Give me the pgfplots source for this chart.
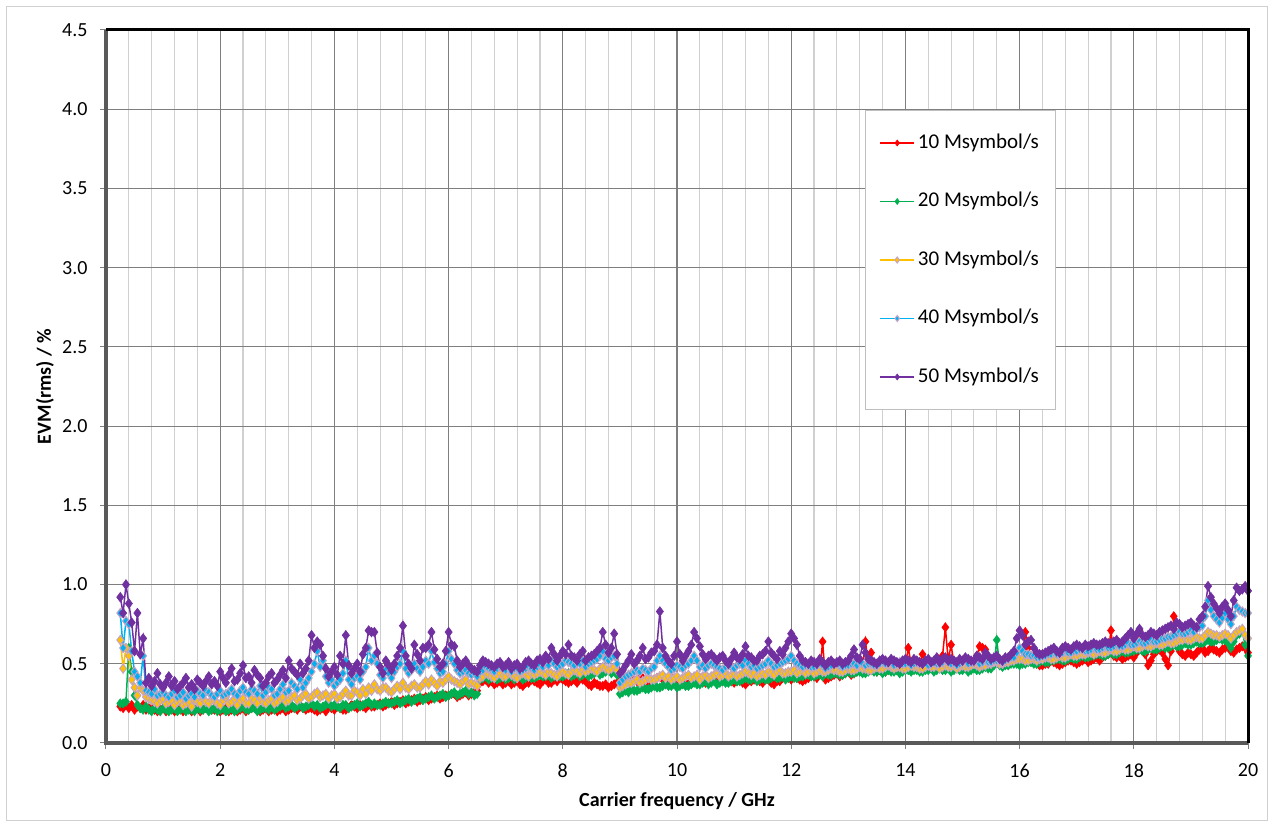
\documentclass[border=0pt]{standalone}
\usepackage{pgfplots}
\pgfplotsset{compat=1.18}
\usepackage{pgfplotstable}
\usepackage{fontspec}
\setmainfont{Carlito}
\definecolor{c10}{HTML}{FF0000}
\definecolor{c20}{HTML}{00B050}
\definecolor{c30}{HTML}{FFC000}
\definecolor{c40}{HTML}{00B0F0}
\definecolor{c50}{HTML}{7030A0}
\definecolor{mk}{HTML}{C4A4C4}
\definecolor{majg}{HTML}{7F7F7F}
\definecolor{ming}{HTML}{D0D0D0}
\definecolor{spine}{HTML}{595959}
\definecolor{framec}{HTML}{D0D0D0}
\definecolor{legc}{HTML}{BFBFBF}

\pgfplotstableread{
x a b c d e
0.25 .23 .25 .65 .82 .92
0.30 .22 .25 .47 .60 .82
0.35 .24 .26 .60 .77 1.00
0.40 .22 .60 .55 .75 .88
0.45 .24 .45 .40 .58 .76
0.50 .21 .30 .35 .45 .58
0.55 .23 .24 .30 .42 .82
0.60 .22 .22 .35 .38 .56
0.65 .24 .21 .33 .55 .66
0.70 .21 .23 .29 .33 .38
0.75 .22 .21 .28 .32 .41
0.80 .22 .20 .27 .31 .36
0.85 .21 .22 .26 .34 .39
0.90 .20 .21 .25 .30 .44
0.95 .21 .20 .27 .31 .37
1.0 .22 .22 .28 .32 .35
1.05 .20 .21 .25 .30 .38
1.1 .21 .20 .26 .29 .42
1.15 .22 .21 .27 .31 .36
1.2 .20 .22 .24 .33 .39
1.25 .21 .20 .26 .29 .34
1.3 .22 .21 .27 .30 .36
1.35 .20 .22 .24 .32 .38
1.4 .21 .20 .25 .28 .41
1.45 .22 .21 .26 .30 .35
1.5 .20 .21 .23 .31 .37
1.55 .21 .20 .27 .29 .34
1.6 .22 .22 .26 .33 .40
1.65 .20 .21 .25 .31 .38
1.7 .21 .21 .28 .30 .36
1.75 .22 .22 .26 .33 .39
1.8 .23 .20 .25 .32 .42
1.85 .21 .21 .27 .30 .37
1.9 .21 .22 .27 .29 .39
1.95 .22 .20 .25 .31 .36
2.0 .20 .21 .24 .33 .45
2.05 .21 .22 .27 .30 .41
2.1 .22 .20 .29 .31 .38
2.15 .20 .21 .25 .32 .43
2.2 .21 .22 .26 .34 .47
2.25 .22 .20 .28 .31 .39
2.3 .20 .21 .24 .30 .40
2.35 .21 .22 .27 .33 .44
2.4 .22 .23 .28 .35 .49
2.45 .20 .21 .25 .32 .41
2.5 .21 .21 .25 .31 .42
2.55 .22 .22 .28 .34 .38
2.6 .23 .22 .27 .33 .46
2.65 .21 .20 .25 .31 .43
2.7 .20 .21 .29 .36 .41
2.75 .21 .22 .26 .30 .36
2.8 .22 .22 .25 .32 .38
2.85 .20 .21 .27 .35 .42
2.9 .21 .23 .28 .34 .44
2.95 .22 .21 .25 .30 .38
3.0 .20 .22 .26 .31 .40
3.05 .21 .23 .28 .34 .43
3.1 .22 .24 .29 .37 .46
3.15 .20 .22 .26 .32 .41
3.2 .21 .23 .27 .33 .52
3.25 .22 .24 .29 .38 .47
3.3 .22 .22 .30 .36 .45
3.35 .21 .23 .27 .34 .43
3.4 .23 .24 .28 .40 .50
3.45 .22 .22 .30 .35 .44
3.5 .21 .23 .31 .38 .47
3.55 .22 .24 .28 .41 .52
3.6 .22 .25 .29 .45 .68
3.65 .21 .23 .31 .50 .60
3.7 .20 .24 .32 .58 .64
3.75 .21 .22 .29 .48 .62
3.8 .22 .23 .30 .52 .55
3.85 .20 .24 .31 .42 .47
3.9 .23 .25 .28 .38 .42
3.95 .22 .23 .30 .40 .45
4.0 .21 .24 .31 .36 .48
4.05 .23 .23 .28 .38 .43
4.1 .22 .22 .29 .40 .55
4.15 .21 .24 .31 .44 .50
4.2 .21 .24 .33 .52 .68
4.25 .22 .22 .30 .40 .49
4.3 .24 .23 .30 .37 .44
4.35 .23 .24 .33 .41 .47
4.4 .22 .25 .32 .42 .50
4.45 .24 .23 .30 .40 .45
4.5 .23 .24 .34 .45 .56
4.55 .22 .25 .31 .48 .60
4.6 .24 .26 .35 .60 .71
4.65 .23 .24 .33 .52 .70
4.7 .23 .25 .37 .55 .70
4.75 .24 .24 .34 .50 .57
4.8 .25 .24 .33 .43 .48
4.85 .23 .25 .35 .41 .44
4.9 .24 .26 .35 .46 .52
4.95 .25 .25 .33 .44 .49
5.0 .26 .25 .32 .41 .46
5.05 .24 .26 .34 .45 .50
5.1 .25 .27 .36 .48 .55
5.15 .26 .25 .34 .50 .60
5.2 .27 .26 .38 .58 .74
5.25 .25 .27 .35 .47 .55
5.3 .26 .28 .34 .44 .50
5.35 .27 .26 .36 .46 .47
5.4 .28 .27 .37 .50 .62
5.45 .26 .28 .35 .47 .56
5.5 .27 .29 .35 .45 .52
5.55 .28 .27 .37 .48 .60
5.6 .29 .28 .39 .52 .60
5.65 .27 .29 .37 .50 .62
5.7 .28 .30 .40 .58 .70
5.75 .29 .28 .38 .51 .59
5.8 .30 .29 .36 .47 .53
5.85 .28 .30 .39 .44 .48
5.9 .29 .31 .38 .45 .50
5.95 .30 .29 .40 .50 .58
6.0 .30 .30 .42 .58 .70
6.05 .31 .31 .40 .53 .62
6.1 .31 .32 .39 .50 .61
6.15 .29 .30 .38 .46 .52
6.2 .30 .31 .37 .44 .48
6.25 .31 .32 .39 .45 .50
6.3 .32 .33 .40 .46 .52
6.35 .30 .31 .37 .44 .49
6.4 .31 .32 .38 .43 .47
6.45 .32 .30 .37 .44 .46
6.5 .33 .31 .36 .42 .45
6.55 .38 .40 .41 .45 .49
6.6 .39 .41 .42 .46 .52
6.65 .40 .42 .44 .48 .51
6.7 .38 .40 .43 .47 .50
6.75 .39 .41 .42 .46 .49
6.8 .37 .42 .41 .45 .48
6.85 .38 .40 .43 .47 .50
6.9 .39 .41 .44 .48 .51
6.95 .37 .42 .42 .47 .48
7.0 .38 .40 .42 .46 .49
7.05 .39 .41 .44 .48 .51
7.1 .37 .42 .43 .45 .47
7.15 .38 .40 .42 .47 .49
7.2 .39 .41 .41 .47 .50
7.25 .37 .42 .43 .45 .47
7.3 .36 .40 .44 .46 .48
7.35 .38 .41 .43 .47 .51
7.4 .38 .42 .42 .48 .52
7.45 .40 .41 .44 .47 .50
7.5 .39 .41 .43 .46 .49
7.55 .38 .42 .44 .48 .52
7.6 .37 .43 .45 .49 .53
7.65 .39 .42 .44 .48 .51
7.7 .40 .42 .43 .50 .55
7.75 .38 .43 .45 .49 .53
7.8 .38 .41 .44 .52 .60
7.85 .40 .42 .43 .50 .56
7.9 .39 .43 .42 .48 .52
7.95 .41 .42 .44 .49 .55
8.0 .40 .42 .45 .50 .58
8.05 .39 .43 .44 .52 .56
8.1 .38 .44 .43 .51 .62
8.15 .39 .42 .45 .50 .55
8.2 .40 .43 .46 .49 .54
8.25 .38 .44 .45 .51 .52
8.3 .41 .42 .44 .50 .56
8.35 .40 .43 .46 .52 .58
8.4 .39 .44 .45 .48 .52
8.45 .37 .42 .46 .50 .54
8.5 .36 .43 .47 .51 .55
8.55 .38 .44 .46 .52 .56
8.6 .37 .45 .45 .53 .58
8.65 .36 .43 .47 .55 .60
8.7 .36 .44 .48 .58 .70
8.75 .37 .45 .47 .53 .62
8.8 .35 .46 .46 .52 .57
8.85 .36 .44 .47 .54 .60
8.9 .37 .45 .48 .55 .69
8.95 .38 .43 .46 .50 .56
9.0 .42 .31 .35 .38 .44
9.05 .41 .32 .36 .40 .46
9.1 .40 .33 .37 .42 .49
9.15 .41 .32 .38 .43 .52
9.2 .42 .34 .38 .44 .56
9.25 .40 .33 .39 .45 .50
9.3 .39 .33 .40 .46 .52
9.35 .41 .34 .38 .45 .55
9.4 .41 .35 .39 .47 .60
9.45 .39 .34 .40 .46 .53
9.5 .38 .34 .41 .45 .54
9.55 .40 .35 .40 .47 .57
9.6 .40 .36 .40 .48 .58
9.65 .41 .35 .41 .52 .62
9.7 .42 .35 .42 .55 .83
9.75 .40 .36 .43 .52 .60
9.8 .39 .37 .41 .50 .55
9.85 .40 .36 .42 .48 .52
9.9 .41 .36 .40 .46 .50
9.95 .39 .37 .41 .47 .55
10.0 .38 .35 .42 .49 .64
10.05 .39 .36 .40 .48 .56
10.1 .40 .37 .41 .47 .52
10.15 .38 .36 .42 .49 .55
10.2 .37 .36 .43 .50 .58
10.25 .38 .37 .41 .52 .62
10.3 .39 .38 .42 .55 .70
10.35 .40 .37 .43 .52 .66
10.4 .41 .37 .40 .48 .61
10.45 .39 .38 .42 .49 .56
10.5 .38 .39 .43 .47 .53
10.55 .40 .37 .41 .49 .55
10.6 .40 .38 .42 .50 .56
10.65 .41 .39 .43 .49 .54
10.7 .42 .37 .44 .48 .52
10.75 .40 .38 .42 .47 .54
10.8 .39 .39 .43 .46 .55
10.85 .40 .38 .44 .48 .52
10.9 .41 .38 .42 .49 .50
10.95 .39 .39 .43 .48 .53
11.0 .38 .40 .44 .47 .57
11.05 .39 .39 .42 .49 .54
11.1 .40 .39 .43 .50 .53
11.15 .38 .40 .44 .49 .56
11.2 .37 .41 .45 .52 .61
11.25 .39 .40 .44 .50 .55
11.3 .39 .40 .43 .48 .54
11.35 .40 .41 .44 .49 .52
11.4 .41 .39 .42 .47 .52
11.45 .39 .40 .43 .48 .55
11.5 .38 .41 .44 .49 .56
11.55 .40 .40 .43 .50 .58
11.6 .40 .40 .45 .52 .64
11.65 .38 .41 .44 .50 .57
11.7 .37 .42 .43 .48 .55
11.75 .39 .41 .45 .49 .53
11.8 .39 .41 .46 .50 .58
11.85 .41 .42 .44 .51 .56
11.9 .42 .40 .44 .52 .60
11.95 .41 .41 .45 .53 .64
12.0 .40 .42 .45 .55 .69
12.05 .42 .41 .46 .52 .66
12.1 .41 .41 .44 .50 .62
12.15 .40 .42 .45 .49 .55
12.2 .39 .42 .46 .48 .52
12.25 .40 .43 .44 .49 .51
12.3 .41 .43 .45 .49 .50
12.35 .43 .42 .46 .48 .52
12.4 .42 .42 .44 .48 .51
12.45 .41 .43 .45 .49 .50
12.5 .45 .43 .46 .50 .53
12.55 .64 .42 .45 .49 .51
12.6 .40 .44 .45 .47 .49
12.65 .41 .43 .46 .48 .51
12.7 .42 .43 .47 .49 .52
12.75 .43 .44 .46 .50 .50
12.8 .44 .44 .46 .50 .51
12.85 .42 .43 .45 .49 .52
12.9 .43 .43 .45 .48 .50
12.95 .44 .44 .46 .49 .51
13.0 .45 .45 .47 .49 .52
13.05 .43 .44 .46 .50 .55
13.1 .44 .44 .46 .50 .59
13.15 .45 .45 .47 .49 .54
13.2 .46 .45 .48 .51 .53
13.25 .47 .44 .47 .50 .62
13.3 .64 .44 .47 .49 .57
13.35 .50 .45 .46 .50 .53
13.4 .57 .46 .46 .50 .52
13.45 .46 .45 .47 .49 .51
13.5 .45 .45 .48 .49 .50
13.55 .46 .46 .47 .50 .52
13.6 .47 .44 .47 .51 .53
13.65 .45 .45 .48 .50 .52
13.7 .46 .46 .49 .50 .51
13.75 .47 .45 .48 .51 .53
13.8 .48 .45 .47 .49 .52
13.85 .46 .46 .48 .50 .51
13.9 .47 .44 .48 .51 .50
13.95 .48 .45 .47 .50 .52
14.0 .49 .46 .47 .50 .53
14.05 .60 .46 .48 .51 .52
14.1 .50 .45 .49 .49 .51
14.15 .47 .46 .48 .50 .53
14.2 .48 .46 .48 .51 .52
14.25 .49 .45 .47 .50 .51
14.3 .56 .45 .47 .50 .50
14.35 .47 .46 .48 .51 .52
14.4 .47 .46 .49 .49 .53
14.45 .48 .47 .48 .50 .51
14.5 .49 .45 .48 .51 .52
14.55 .47 .46 .49 .50 .54
14.6 .48 .47 .47 .50 .51
14.65 .55 .46 .48 .51 .53
14.7 .73 .46 .49 .52 .54
14.75 .52 .47 .48 .51 .52
14.8 .62 .45 .48 .50 .53
14.85 .50 .46 .49 .51 .52
14.9 .49 .47 .47 .49 .51
14.95 .50 .46 .48 .50 .53
15.0 .48 .46 .49 .51 .52
15.05 .49 .47 .48 .52 .54
15.1 .50 .45 .48 .50 .53
15.15 .51 .46 .49 .51 .52
15.2 .49 .47 .50 .51 .52
15.25 .55 .46 .49 .52 .55
15.3 .61 .46 .48 .50 .54
15.35 .60 .47 .49 .51 .53
15.4 .59 .48 .49 .52 .57
15.45 .52 .47 .50 .51 .55
15.5 .50 .47 .50 .51 .53
15.55 .51 .49 .51 .52 .54
15.6 .51 .65 .51 .52 .55
15.65 .50 .49 .50 .52 .53
15.7 .52 .48 .50 .51 .52
15.75 .51 .49 .51 .52 .54
15.8 .50 .49 .51 .53 .54
15.85 .52 .50 .52 .54 .56
15.9 .52 .50 .52 .54 .58
15.95 .51 .50 .53 .57 .66
16.0 .51 .49 .53 .60 .71
16.05 .53 .50 .53 .58 .68
16.1 .70 .50 .52 .56 .62
16.15 .60 .51 .52 .56 .64
16.2 .55 .51 .53 .55 .65
16.25 .51 .50 .53 .55 .60
16.3 .50 .50 .52 .54 .57
16.35 .49 .51 .53 .54 .56
16.4 .49 .52 .53 .55 .56
16.45 .50 .51 .54 .55 .57
16.5 .50 .51 .54 .56 .58
16.55 .52 .52 .53 .56 .59
16.6 .51 .52 .53 .57 .60
16.65 .50 .53 .54 .56 .58
16.7 .49 .53 .55 .56 .57
16.75 .50 .52 .54 .57 .60
16.8 .51 .52 .54 .58 .61
16.85 .52 .53 .55 .57 .60
16.9 .52 .54 .56 .57 .59
16.95 .51 .53 .55 .58 .61
17.0 .50 .53 .55 .58 .62
17.05 .51 .54 .56 .59 .61
17.1 .52 .55 .56 .59 .60
17.15 .53 .54 .56 .58 .62
17.2 .51 .54 .57 .58 .61
17.25 .52 .55 .57 .59 .62
17.3 .53 .55 .56 .60 .63
17.35 .54 .56 .57 .59 .62
17.4 .52 .56 .58 .59 .62
17.45 .54 .55 .57 .60 .63
17.5 .55 .55 .57 .61 .64
17.55 .56 .56 .58 .60 .63
17.6 .71 .57 .59 .60 .63
17.65 .55 .56 .58 .61 .64
17.7 .54 .56 .58 .62 .65
17.75 .55 .57 .59 .61 .63
17.8 .53 .58 .60 .61 .64
17.85 .54 .57 .59 .62 .66
17.9 .55 .57 .59 .63 .68
17.95 .56 .58 .60 .62 .70
18.0 .54 .58 .61 .62 .66
18.05 .57 .59 .60 .63 .69
18.1 .71 .59 .60 .64 .72
18.15 .60 .58 .61 .63 .68
18.2 .56 .58 .62 .63 .67
18.25 .49 .59 .61 .64 .68
18.3 .52 .60 .61 .65 .70
18.35 .56 .59 .62 .64 .69
18.4 .58 .59 .63 .64 .68
18.45 .59 .60 .62 .65 .70
18.5 .57 .61 .62 .66 .71
18.55 .53 .60 .63 .66 .72
18.6 .49 .60 .64 .67 .73
18.65 .58 .61 .63 .67 .74
18.7 .80 .62 .63 .68 .72
18.75 .62 .61 .64 .69 .76
18.8 .58 .61 .65 .70 .75
18.85 .56 .62 .65 .69 .73
18.9 .55 .63 .66 .69 .74
18.95 .57 .62 .65 .70 .75
19.0 .56 .62 .65 .71 .76
19.05 .55 .63 .66 .70 .74
19.1 .57 .64 .67 .72 .73
19.15 .59 .63 .66 .73 .78
19.2 .60 .63 .66 .74 .80
19.25 .57 .64 .68 .80 .86
19.3 .58 .65 .70 .90 .99
19.35 .60 .64 .69 .84 .92
19.4 .59 .64 .68 .80 .88
19.45 .58 .65 .68 .78 .85
19.5 .57 .66 .67 .76 .82
19.55 .59 .65 .68 .79 .86
19.6 .60 .65 .69 .82 .88
19.65 .61 .63 .68 .78 .84
19.7 .58 .60 .66 .75 .80
19.75 .57 .64 .68 .80 .90
19.8 .59 .68 .70 .86 .98
19.85 .60 .69 .71 .84 .96
19.9 .61 .70 .72 .83 .97
19.95 .60 .62 .68 .82 .99
20.0 .57 .55 .66 .82 .96
}\data

\begin{document}
\begin{tikzpicture}
\path[use as bounding box] (-106pt,-86pt) rectangle (1168pt,743pt);
\draw[framec, line width=1pt] (-99pt,-78pt) rectangle (1161pt,736pt);
\begin{axis}[name=ax, at={(0pt,0pt)}, anchor=south west,
  scale only axis, width=1142pt, height=713pt,
  xmin=0, xmax=20, ymin=0, ymax=4.5,
  xtick={0,2,...,20}, ytick={0,0.5,...,4.5},
  minor x tick num=4,
  grid=both,
  major grid style={draw=majg, line width=1.1pt},
  minor grid style={draw=ming, line width=1.1pt},
  axis line style={draw=none},
  tick align=outside, major tick length=6pt, minor tick length=0pt,
  tick style={draw=majg, line width=1pt},
  xtick pos=bottom, ytick pos=left,
  /pgf/number format/assume math mode=true,
  ticklabel style={font=\fontsize{20}{24}\selectfont},
  yticklabel style={xshift=-9pt, /pgf/number format/.cd, fixed, fixed zerofill, precision=1},
  xticklabel style={yshift=-11pt, /pgf/number format/.cd, fixed, precision=0},
  xlabel={\textbf{Carrier frequency / GHz}},
  ylabel={\textbf{EVM(rms) / \%}},
  label style={font=\fontsize{20}{24}\selectfont},
  xlabel style={at={(axis description cs:0.5,-0.0813)}, anchor=center},
  ylabel style={at={(axis description cs:-0.0534,0.5)}, anchor=center},
  clip=false,
  legend cell align=left,
  legend style={at={(rel axis cs:0.6646,0.8878)}, anchor=north west,
    draw=legc, line width=1pt, fill=white,
    font=\fontsize{21}{24}\selectfont,
    inner xsep=14pt, inner ysep=20pt, row sep=33.5pt,
    nodes={text height=15pt, text depth=4pt, inner sep=3pt}},
  legend image code/.code={\draw[mark repeat=2,mark phase=2,#1,mark size=3pt,line width=1.5pt] plot coordinates {(0pt,0pt) (17pt,0pt) (34pt,0pt)};},
]
\addplot[c10, line width=1.5pt, mark=diamond*, mark size=4.6pt, mark options={fill=c10, draw=c10, line width=0.6pt}] table[x=x,y=a]{\data};
\addlegendentry{10 Msymbol/s}
\addplot[c20, line width=1.5pt, mark=diamond*, mark size=4.6pt, mark options={fill=c20, draw=c20, line width=0.6pt}] table[x=x,y=b]{\data};
\addlegendentry{20 Msymbol/s}
\addplot[c30, line width=1.5pt, mark=diamond*, mark size=4.6pt, mark options={fill=c30, draw=mk, line width=1pt}] table[x=x,y=c]{\data};
\addlegendentry{30 Msymbol/s}
\addplot[c40, line width=1.5pt, mark=diamond*, mark size=4.6pt, mark options={fill=c40, draw=mk, line width=1pt}] table[x=x,y=d]{\data};
\addlegendentry{40 Msymbol/s}
\addplot[c50, line width=1.5pt, mark=diamond*, mark size=4.8pt, mark options={fill=c50, draw=c50, line width=0.6pt}] table[x=x,y=e]{\data};
\addlegendentry{50 Msymbol/s}
\end{axis}
\draw[spine, line width=3.5pt] (ax.north west) -- (ax.south west) -- (ax.south east);
\draw[black, line width=3pt] (ax.north west) -- (ax.north east) -- (ax.south east);
\end{tikzpicture}
\end{document}
